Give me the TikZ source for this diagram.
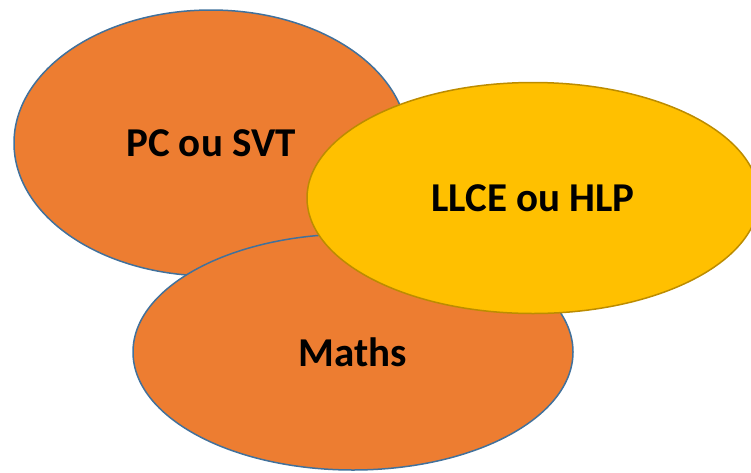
\documentclass[tikz,border=0pt]{standalone}
\usepackage{fontspec}
\setmainfont{Carlito}
\usepackage{tikz}
\usetikzlibrary{shapes.geometric}
\definecolor{orangeF}{HTML}{ED7D31}
\definecolor{blueB}{HTML}{41719C}
\definecolor{yellowF}{HTML}{FFC000}
\definecolor{goldB}{HTML}{BC8C00}
\tikzstyle{orangeE}=[ellipse, fill=orangeF, draw=blueB, line width=1.5pt, inner sep=0pt, outer sep=0pt, font=\bfseries\fontsize{41}{49}\selectfont]
\tikzstyle{yellowE}=[ellipse, fill=yellowF, draw=goldB, line width=1.5pt, inner sep=0pt, outer sep=0pt, font=\bfseries\fontsize{41}{49}\selectfont]

\begin{document}
\begin{tikzpicture}[x=1pt, y=1pt]
      \useasboundingbox (0, 0) rectangle (751, -472);
      \clip (0, 0) rectangle (751, -472);
      \node(pc) [orangeE, minimum width=394pt, minimum height=266pt] at (211, -143){PC ou SVT};
      \node(maths) [orangeE, minimum width=440pt, minimum height=236pt] at (353, -352){Maths};
      \node(llce) [yellowE, minimum width=452pt, minimum height=231pt] at (533, -198){LLCE ou HLP};
    \end{tikzpicture}
\end{document}
